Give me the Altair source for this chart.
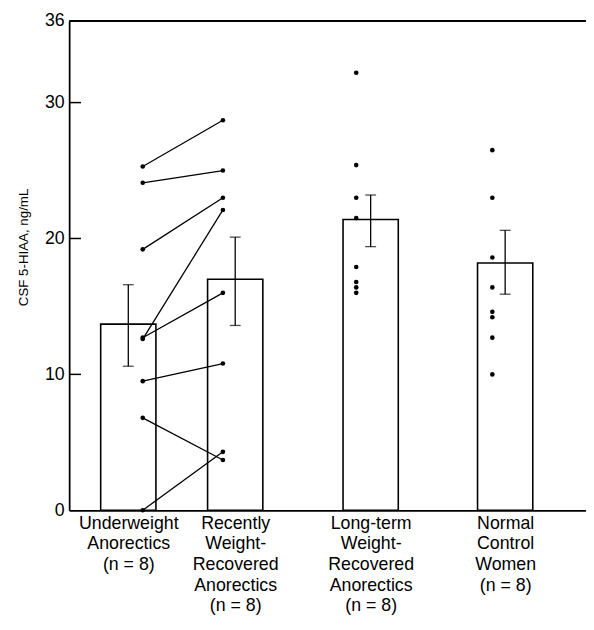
import altair as alt
import pandas as pd

# ---------------- data ----------------
groups = [
    "Underweight Anorectics",
    "Recently Weight-Recovered Anorectics",
    "Long-term Weight-Recovered Anorectics",
    "Normal Control Women",
]
group_labels = [
    ["Underweight", "Anorectics", "(n = 8)"],
    ["Recently", "Weight-", "Recovered", "Anorectics", "(n = 8)"],
    ["Long-term", "Weight-", "Recovered", "Anorectics", "(n = 8)"],
    ["Normal", "Control", "Women", "(n = 8)"],
]
# individual values (underweight and recently recovered are paired by index)
underweight = [25.3, 24.1, 19.2, 12.6, 12.7, 9.5, 6.8, 0.0]
recently = [28.7, 25.0, 23.0, 22.1, 16.0, 10.8, 3.7, 4.3]
longterm = [32.2, 25.4, 23.0, 21.5, 17.9, 16.8, 16.4, 16.0]
control = [26.5, 23.0, 18.6, 16.4, 14.6, 14.2, 12.7, 10.0]
means = [13.7, 17.0, 21.4, 18.2]
err_low = [10.6, 13.6, 19.4, 15.9]
err_high = [16.6, 20.1, 23.2, 20.6]
y_ticks = [0, 10, 20, 30, 36]
inner_ticks = [10, 20, 30]

# ---------------- layout ----------------
GROUP_POS = [1.0, 2.0, 3.267, 4.525]
POINT_SHIFT = [0.135, -0.115, -0.135, -0.12]
X_DOMAIN = [0.493, 5.235]
W, H = 524, 496
FONT = "Liberation Sans"

values = [underweight, recently, longterm, control]

bars_df = pd.DataFrame({
    "group": groups, "pos": GROUP_POS, "mean": means,
    "lo": err_low, "hi": err_high,
})
caps_df = pd.DataFrame({
    "pos": GROUP_POS * 2,
    "v": err_low + err_high,
})
pts_rows = []
for gi, vals in enumerate(values):
    for si, v in enumerate(vals):
        pts_rows.append({"group": groups[gi], "subject": si,
                         "x": GROUP_POS[gi] + POINT_SHIFT[gi], "value": v, "gi": gi})
pts_df = pd.DataFrame(pts_rows)
lines_df = pts_df[pts_df["gi"] <= 1]
ticks_df = pd.DataFrame({"t": inner_ticks})
frame_df = pd.DataFrame({"a": [0]})

# label expression built from group_labels
def arr(lst):
    return "[" + ",".join("'" + s + "'" for s in lst) + "]"

cuts = [(GROUP_POS[i] + GROUP_POS[i + 1]) / 2 for i in range(3)]
label_expr = (
    f"datum.value < {cuts[0]} ? {arr(group_labels[0])} : "
    f"datum.value < {cuts[1]} ? {arr(group_labels[1])} : "
    f"datum.value < {cuts[2]} ? {arr(group_labels[2])} : {arr(group_labels[3])}"
)

x_scale = alt.Scale(domain=X_DOMAIN, nice=False, zero=False)
y_scale = alt.Scale(domain=[0, 36], nice=False, zero=True)

x_axis = alt.Axis(
    values=GROUP_POS, labelExpr=label_expr, title=None, grid=False, ticks=False,
    domainColor="black", domainWidth=1.8, labelFont=FONT, labelFontSize=18,
    labelColor="black", labelPadding=4, labelLineHeight=21, labelFlush=False,
    labelOverlap=False, labelAlign="center", labelBaseline="top",
)
y_axis = alt.Axis(
    values=y_ticks, title="CSF 5-HIAA, ng/mL", grid=False, ticks=False,
    domainColor="black", domainWidth=1.8, labelFont=FONT, labelFontSize=18,
    labelColor="black", labelPadding=5, titleFont=FONT, titleFontSize=13.5,
    titleFontWeight="normal", titleColor="black", titleX=-46, titleY=229,
    titleBaseline="middle", titleAngle=270,
)

def X(field):
    return alt.X(f"{field}:Q", scale=x_scale, axis=x_axis)

def Y(field):
    return alt.Y(f"{field}:Q", scale=y_scale, axis=y_axis)

bars = alt.Chart(bars_df).mark_bar(
    size=56, fill="white", stroke="black", strokeWidth=1.6
).encode(x=X("pos"), y=Y("mean"))

err = alt.Chart(bars_df).mark_rule(color="black", strokeWidth=1.3).encode(
    x=X("pos"), y=Y("lo"), y2="hi"
)
caps = alt.Chart(caps_df).mark_tick(
    color="black", orient="horizontal", size=11, thickness=1.3
).encode(x=X("pos"), y=Y("v"))

lines = alt.Chart(lines_df).mark_line(color="black", strokeWidth=1.3).encode(
    x=X("x"), y=Y("value"), detail="subject:N"
)
points = alt.Chart(pts_df).mark_circle(color="black", size=22, opacity=1).encode(
    x=X("x"), y=Y("value")
)
inner = alt.Chart(ticks_df).mark_rule(color="black", strokeWidth=1.5).encode(
    y=Y("t"), x=alt.value(0), x2=alt.value(12)
)
top = alt.Chart(frame_df).mark_rule(color="black", strokeWidth=2).encode(
    y=alt.value(0), x=alt.value(0), x2=alt.value(W)
)

chart = alt.layer(bars, err, caps, lines, points, inner, top).properties(
    width=W, height=H,
    autosize=alt.AutoSizeParams(type="none"),
    padding={"left": 62, "top": 9, "right": 0, "bottom": 106},
).configure_view(stroke=None)

chart.save("out.html", embed_options={"renderer": "svg", "actions": False})
